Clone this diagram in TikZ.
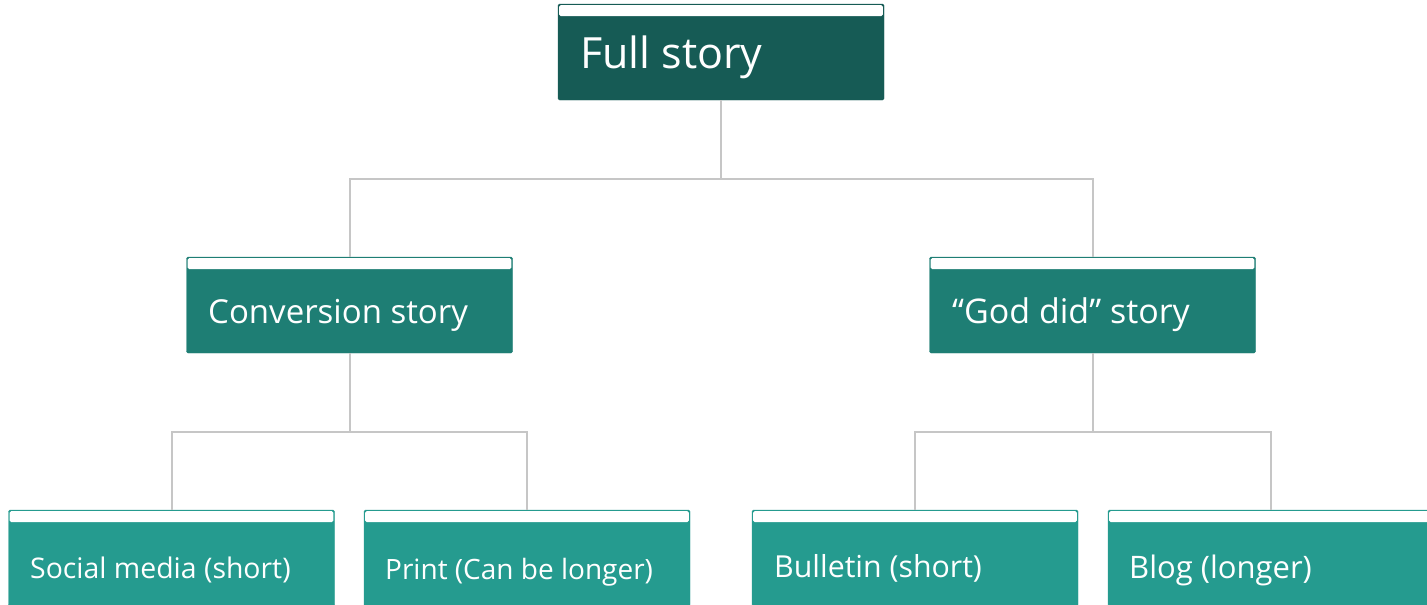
\documentclass[tikz,border=0pt]{standalone}
\usepackage{fontspec}
\setmainfont{Open Sans}
\definecolor{cTop}{HTML}{165B55}
\definecolor{cMid}{HTML}{1E7E74}
\definecolor{cLow}{HTML}{259B8F}
\definecolor{cLine}{HTML}{C6C6C6}
\tikzset{
  box/.style={rectangle, rounded corners=1.5pt, minimum width=326pt, minimum height=96pt, inner sep=0pt,
    path picture={\fill[white] ([xshift=1.2pt,yshift=-1.2pt]path picture bounding box.north west) rectangle ([xshift=-1.2pt,yshift=-12pt]path picture bounding box.north east);}},
  boxtop/.style={box, fill=cTop, draw=cTop},
  boxmid/.style={box, fill=cMid, draw=cMid},
  boxlow/.style={box, fill=cLow, draw=cLow},
  lbl/.style={anchor=base west, inner sep=0pt, text=white},
  conn/.style={draw=cLine, line width=2pt}
}
\begin{document}
\begin{tikzpicture}[x=1pt,y=-1pt]
\useasboundingbox (0,0) rectangle (1427,605);
\node[boxtop] (full) at (721,52) {};
\node[boxmid] (conv) at (349.5,305) {};
\node[boxmid] (god) at (1092.5,305) {};
\node[boxlow] (social) at (171.5,558) {};
\node[boxlow] (print) at (527,558) {};
\node[boxlow] (bull) at (915,558) {};
\node[boxlow] (blog) at (1271,558) {};
\node[lbl, font=\fontsize{43}{48}\selectfont] (tfull) at (580,68) {Full story};
\node[lbl, font=\fontsize{33}{38}\selectfont] (tconv) at (208,323) {Conversion story};
\node[lbl, font=\fontsize{34}{38}\selectfont] (tgod) at (952,323) {“God did” story};
\node[lbl, font=\fontsize{28.4}{32}\selectfont] (tsoc) at (30,578) {Social media (short)};
\node[lbl, font=\fontsize{28}{32}\selectfont] (tpri) at (385,579) {Print (Can be longer)};
\node[lbl, font=\fontsize{30.3}{34}\selectfont] (tbul) at (774,577) {Bulletin (short)};
\node[lbl, font=\fontsize{31}{34}\selectfont] (tblo) at (1129,578) {Blog (longer)};
\coordinate (j1) at (721,179);
\coordinate (j2) at (349.5,432);
\coordinate (j3) at (1092.5,432);
\path[conn] (full.south) -- (j1) -| (conv.north);
\path[conn] (j1) -| (god.north);
\path[conn] (conv.south) -- (j2) -| (social.north);
\path[conn] (j2) -| (print.north);
\path[conn] (god.south) -- (j3) -| (bull.north);
\path[conn] (j3) -| (blog.north);
\end{tikzpicture}
\end{document}
